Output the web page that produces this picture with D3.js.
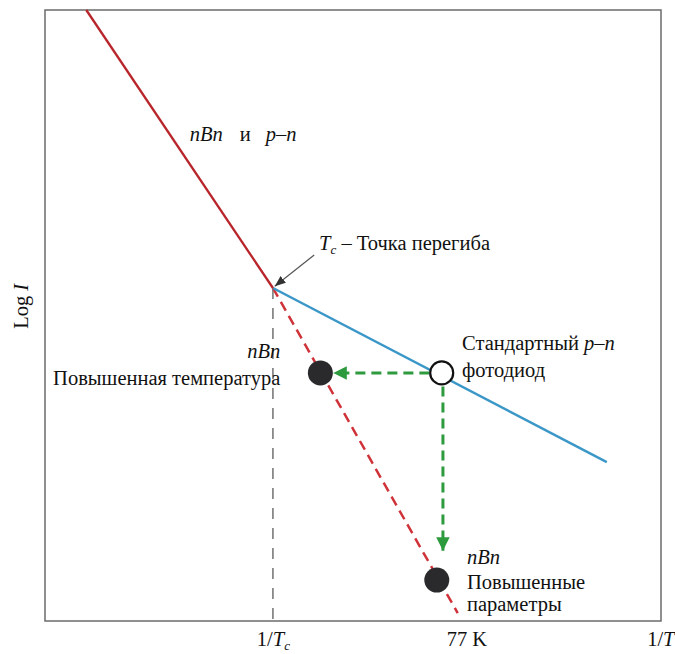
<!DOCTYPE html>
<html>
<head>
<meta charset="utf-8">
<script src="https://cdn.jsdelivr.net/npm/d3@7"></script>
<style>
  body { margin: 0; background: #fff; }
  svg text { font-family: "Liberation Serif"; fill: #111; }
</style>
</head>
<body>
<div id="chart"></div>
<script>
// data, in chart units (x = 1/T, y = log I), both 0..100

var nbnSolid = [[6.7, 100], [37.0, 54.5]];
var nbnDashed = [[37.0, 54.5], [67.0, 1.3]];
var pnLine = [[37.0, 54.5], [91.2, 26.0]];
var kneeDrop = [[37.0, 54.5], [37.0, 0]];
var filledDots = [[44.7, 40.6], [63.6, 6.7]];
var openDots = [[64.4, 40.6]];
var greenArrows = [
  [[62.4, 40.6], [46.8, 40.6]],
  [[64.6, 38.4], [64.6, 11.5]]
];
var xTickVals = [37.0, 68.4, 100];
var xTickLabels = ["1/Tc", "77 K", "1/T"];

var fontSize = "20.5px";

// set svg and dimensions of chart

var svgWidth = 675;
var svgHeight = 654;

let chartMargin = { top: 10, right: 14, bottom: 33, left: 45 };

let width = svgWidth - chartMargin.left - chartMargin.right;
let height = svgHeight - chartMargin.top - chartMargin.bottom;

let svg = d3.select("#chart")
  .append("svg")
  .attr("width", svgWidth)
  .attr("height", svgHeight);

let defs = svg.append("defs");
defs.append("marker")
  .attr("id", "greenHead")
  .attr("viewBox", "0 0 10 10")
  .attr("refX", 10).attr("refY", 5)
  .attr("markerWidth", 4.5).attr("markerHeight", 4.5)
  .attr("markerUnits", "strokeWidth")
  .attr("orient", "auto")
  .append("path")
  .attr("d", "M0,0 L10,5 L0,10 z")
  .attr("fill", "#2e9a3e");
defs.append("marker")
  .attr("id", "grayHead")
  .attr("viewBox", "0 0 10 10")
  .attr("refX", 10).attr("refY", 5)
  .attr("markerWidth", 9).attr("markerHeight", 9)
  .attr("markerUnits", "strokeWidth")
  .attr("orient", "auto")
  .append("path")
  .attr("d", "M0,1 L10,5 L0,9 z")
  .attr("fill", "#333");

let chartGroup = svg.append("g")
  .attr("transform", `translate(${chartMargin.left}, ${chartMargin.top})`);

// scales

let xScale = d3.scaleLinear().domain([0, 100]).range([0, width]);
let yScale = d3.scaleLinear().domain([0, 100]).range([height, 0]);

let line = d3.line()
  .x(d => xScale(d[0]))
  .y(d => yScale(d[1]));

// frame
chartGroup.append("rect")
  .attr("width", width)
  .attr("height", height)
  .attr("fill", "none")
  .attr("stroke", "#6b6b6b")
  .attr("stroke-width", 1.5);

// x axis labels, no tick marks
let xAxis = d3.axisBottom(xScale)
  .tickValues(xTickVals)
  .tickSize(0)
  .tickPadding(0)
  .tickFormat((d, i) => xTickLabels[i]);

let xAxisG = chartGroup.append("g")
  .attr("transform", `translate(0, ${height})`)
  .call(xAxis)
  .attr("font-family", "Liberation Serif");
xAxisG.select(".domain").remove();
xAxisG.selectAll("text")
  .attr("y", 25)
  .attr("dy", null)
  .style("font-size", fontSize)
  .style("font-family", "Liberation Serif")
  .attr("fill", "#111")
  .each(function(d, i) {
    let t = d3.select(this);
    t.text(null);
    if (i == 0) {
      t.append("tspan").text("1/");
      t.append("tspan").style("font-style", "italic").text("T");
      t.append("tspan").style("font-style", "italic").attr("font-size", "13px").attr("dy", 4).text("c");
    } else if (i == 2) {
      t.attr("text-anchor", "end").attr("x", 13);
      t.append("tspan").text("1/");
      t.append("tspan").style("font-style", "italic").text("T");
    } else {
      t.text(xTickLabels[i]);
    }
  });

// gray dashed drop line at Tc
chartGroup.append("path")
  .attr("d", line(kneeDrop))
  .attr("fill", "none")
  .attr("stroke", "#7a7a7a")
  .attr("stroke-width", 1.6)
  .attr("stroke-dasharray", "11,9");

// lines
chartGroup.append("path")
  .attr("d", line(nbnDashed))
  .attr("fill", "none")
  .attr("stroke", "#cf3339")
  .attr("stroke-width", 2.5)
  .attr("stroke-dasharray", "10,6");

chartGroup.append("path")
  .attr("d", line(pnLine))
  .attr("fill", "none")
  .attr("stroke", "#3b97c8")
  .attr("stroke-width", 2.5);

chartGroup.append("path")
  .attr("d", line(nbnSolid))
  .attr("fill", "none")
  .attr("stroke", "#b8252b")
  .attr("stroke-width", 2.3);

// green dashed arrows
chartGroup.selectAll(".garrow")
  .data(greenArrows)
  .enter()
  .append("path")
  .attr("class", "garrow")
  .attr("d", d => line(d))
  .attr("fill", "none")
  .attr("stroke", "#2e9a3e")
  .attr("stroke-width", 3)
  .attr("stroke-dasharray", "10,6")
  .attr("marker-end", "url(#greenHead)");

// points
chartGroup.selectAll(".fdot")
  .data(filledDots)
  .enter()
  .append("circle")
  .attr("class", "fdot")
  .attr("cx", d => xScale(d[0]))
  .attr("cy", d => yScale(d[1]))
  .attr("r", 12.5)
  .attr("fill", "#2a2a2c");

chartGroup.selectAll(".odot")
  .data(openDots)
  .enter()
  .append("circle")
  .attr("class", "odot")
  .attr("cx", d => xScale(d[0]))
  .attr("cy", d => yScale(d[1]))
  .attr("r", 11.5)
  .attr("fill", "#fff")
  .attr("stroke", "#111")
  .attr("stroke-width", 2.2);

// Tc annotation arrow
chartGroup.append("path")
  .attr("d", line([[43.7, 59.9], [37.3, 54.8]]))
  .attr("stroke", "#555")
  .attr("stroke-width", 1.2)
  .attr("marker-end", "url(#grayHead)");

// text labels
function label(x, y, parts, anchor) {
  let t = chartGroup.append("text")
    .attr("x", xScale(x))
    .attr("y", yScale(y))
    .attr("text-anchor", anchor || "start")
    .style("font-family", "Liberation Serif")
    .style("font-size", fontSize);
  parts.forEach(function(p) {
    let s = t.append("tspan").text(p[0]);
    if (p[1] == "i") s.style("font-style", "italic");
    if (p[1] == "sub") s.style("font-style", "italic").attr("font-size", "13px").attr("dy", 4);
    if (p[1] == "up") s.attr("dy", -4);
    if (p[2]) s.attr("dx", p[2]);
  });
  return t;
}

label(23.5, 78.5, [["nBn", "i"], ["и", "", 17], ["p–n", "i", 15]]);
label(44.5, 60.8, [["T", "i"], ["c", "sub"], [" – Точка перегиба", "up"]]);
label(38.2, 43.0, [["nBn", "i"]], "end");
label(38.2, 38.6, [["Повышенная температура"]], "end");
label(67.7, 44.4, [["Стандартный "], ["p–n", "i"]]);
label(67.7, 40.0, [["фотодиод"]]);
label(68.5, 9.4, [["nBn", "i"]]);
label(68.5, 5.3, [["Повышенные"]]);
label(68.5, 1.7, [["параметры"]]);

// y axis label
let yLab = svg.append("text")
  .attr("transform", `translate(28, ${chartMargin.top + yScale(51.5)}) rotate(-90)`)
  .attr("text-anchor", "middle")
  .style("font-family", "Liberation Serif")
  .style("font-size", fontSize);
yLab.append("tspan").text("Log ");
yLab.append("tspan").style("font-style", "italic").text("I");
</script>
</body>
</html>
